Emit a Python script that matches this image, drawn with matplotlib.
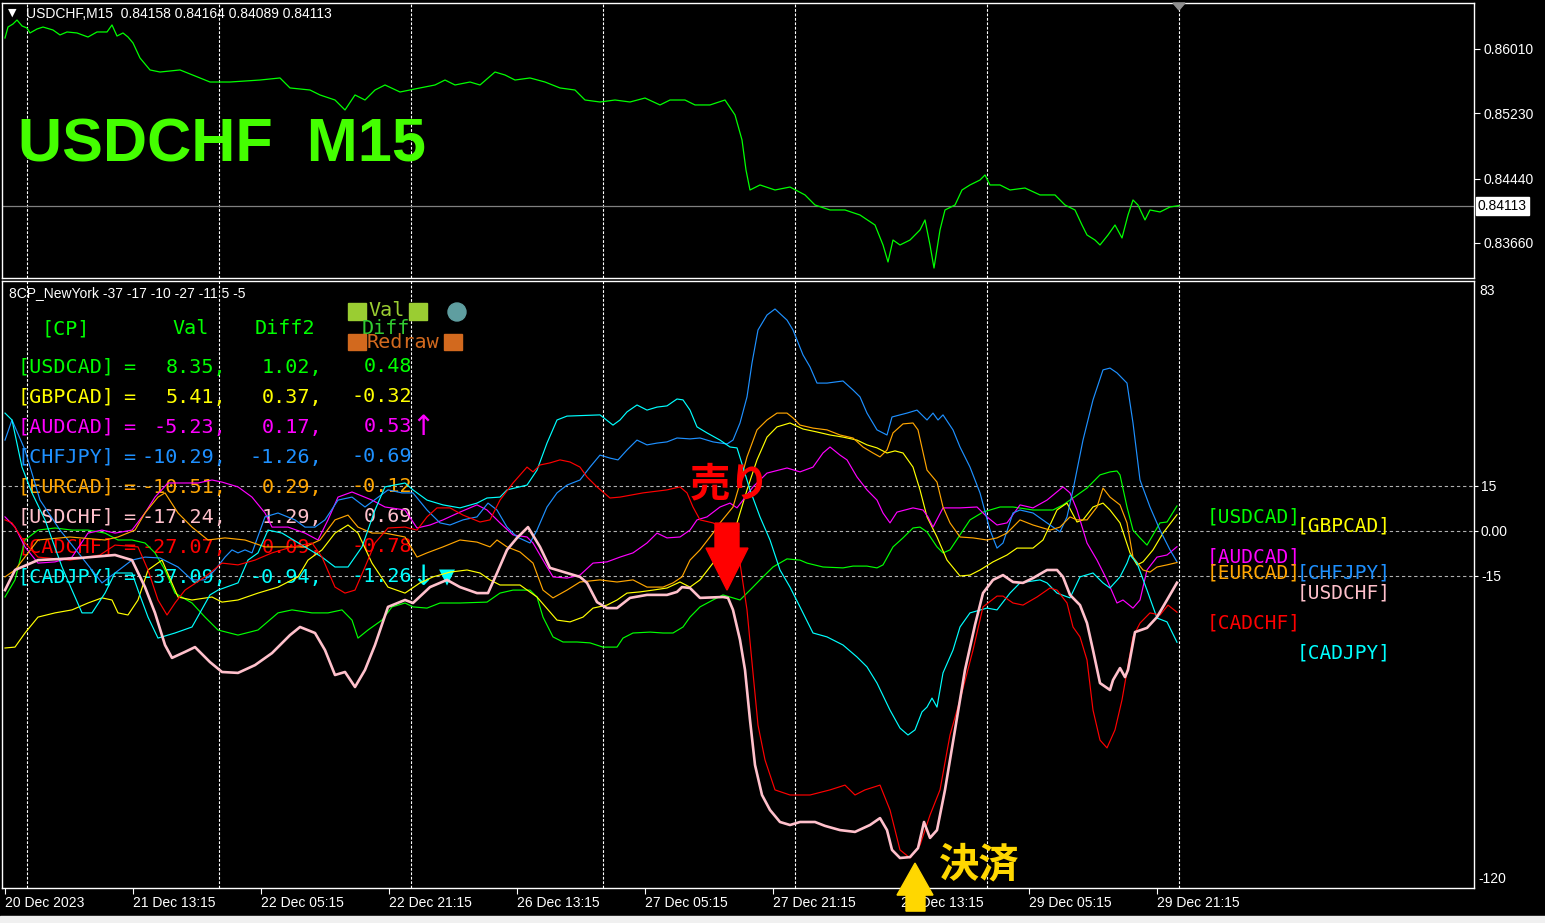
import matplotlib
matplotlib.use('Agg')
import matplotlib.pyplot as plt
import matplotlib.transforms as mtransforms
from matplotlib.patches import Polygon, Rectangle, Circle

plt.rcParams['font.family'] = ['Liberation Sans', 'DejaVu Sans']

# ---------------- data ----------------
symbol_header = "USDCHF,M15  0.84158 0.84164 0.84089 0.84113"
indicator_header = "8CP_NewYork -37 -17 -10 -27 -11 5 -5"
title_text = "USDCHF  M15"
last_price = 0.84113

price_x = [0, 1.5, 4, 6, 8.5, 11, 12.5, 16, 19, 24, 27.5, 31, 36, 41.5, 46, 51, 53.5, 56, 59, 61.5, 64,
           67.5, 72.5, 77.5, 87.5, 97.5, 102.5, 112.5, 127.5, 137.5, 142.5, 152.5, 157.5, 165, 170, 175,
           180, 185, 190, 197.5, 207.5, 215, 220, 225, 232.5, 237.5, 245, 250, 255, 262.5, 270, 277.5,
           285, 290, 297.5, 305, 312.5, 320, 327.5, 332.5, 340, 345, 352.5, 360, 365, 368.5, 370.5,
           372.5, 377.5, 385, 392.5, 400, 405, 412.5, 420, 427.5, 435, 439, 441.5, 444, 447.5, 452.5,
           457.5, 460, 462.5, 464.5, 467.5, 470, 475, 478.5, 482.5, 487.5, 490, 492.5, 497.5, 502.5,
           510, 517.5, 525, 530, 535, 538.5, 541, 545, 547.5, 551.5, 555, 558.5, 561.5, 564, 566.5,
           570, 572.5, 577.5, 582.5, 587]
price_y = [0.86143, 0.86276, 0.86313, 0.86361, 0.86289, 0.86264, 0.86204, 0.86252, 0.86276, 0.86240,
           0.86180, 0.86216, 0.86204, 0.86155, 0.86216, 0.86216, 0.86301, 0.86167, 0.86204, 0.86155,
           0.86083, 0.85901, 0.85756, 0.85731, 0.85756, 0.85659, 0.85610, 0.85610, 0.85634, 0.85659,
           0.85538, 0.85513, 0.85453, 0.85392, 0.85271, 0.85453, 0.85392, 0.85513, 0.85574, 0.85489,
           0.85538, 0.85574, 0.85634, 0.85574, 0.85610, 0.85574, 0.85731, 0.85695, 0.85634, 0.85659,
           0.85610, 0.85538, 0.85513, 0.85392, 0.85368, 0.85392, 0.85368, 0.85416, 0.85332, 0.85392,
           0.85392, 0.85332, 0.85332, 0.85392, 0.85211, 0.84908, 0.84544, 0.84302, 0.84363, 0.84302,
           0.84338, 0.84242, 0.84120, 0.84060, 0.84060, 0.83999, 0.83878, 0.83636, 0.83430, 0.83696,
           0.83636, 0.83696, 0.83818, 0.83939, 0.83636, 0.83357, 0.83818, 0.84060, 0.84120, 0.84302,
           0.84363, 0.84423, 0.84484, 0.84363, 0.84363, 0.84302, 0.84326, 0.84242, 0.84242, 0.84120,
           0.84060, 0.83878, 0.83757, 0.83696, 0.83636, 0.83757, 0.83878, 0.83721, 0.83999, 0.84181,
           0.84120, 0.83939, 0.84060, 0.84036, 0.84096, 0.84113]
price_ticks = [0.86010, 0.85230, 0.84440, 0.83660]

usdcad_x = [0, 5, 10, 16.5, 25, 33.5, 41.5, 50, 56.5, 63.5, 70, 75, 80, 85, 93.5, 100, 106.5, 116.5, 126.5,
            136.5, 143.5, 153.5, 161.5, 168.5, 173.5, 176.5, 181.5, 188.5, 193.5, 200, 204, 211, 217.5,
            227.5, 241, 247.5, 254, 262.5, 266, 269, 274, 279, 286, 292.5, 299, 306, 309, 314, 322.5, 329,
            334, 339, 342.5, 347.5, 354, 359, 364, 367.5, 372.5, 377.5, 384, 391, 397.5, 401, 409, 419,
            424, 431, 436, 439, 444, 449, 454, 457.5, 461, 466, 469, 472.5, 477.5, 482.5, 489, 497.5, 504,
            514, 524, 529, 534, 541, 547.5, 552.5, 556, 557.5, 561, 564, 567.5, 571, 574, 577.5, 581, 586]
usdcad_y = [-22.0, -16.3, -3.0, 0.3, 1.0, 0.3, 0.3, -0.7, -3.0, -3.0, -4.0, -7.3, -13.0, -20.7, -24.0,
            -28.7, -33.0, -34.7, -33.0, -27.3, -26.3, -27.3, -27.3, -26.3, -29.7, -35.7, -33.0, -29.7,
            -25.3, -24.0, -25.3, -25.7, -24.0, -24.0, -23.7, -20.7, -19.7, -19.7, -22.0, -28.7, -35.3,
            -37.0, -37.0, -37.3, -38.7, -38.7, -35.7, -34.0, -33.7, -34.0, -34.0, -32.0, -28.7, -25.3,
            -23.0, -21.3, -22.3, -23.0, -19.7, -16.3, -12.0, -9.3, -9.7, -10.7, -12.0, -12.3, -11.7,
            -11.7, -12.3, -11.3, -5.3, -2.3, 1.0, 1.3, -0.3, -5.3, -7.3, -6.3, -1.3, 3.7, 6.3, 8.0, 8.0,
            7.0, 7.0, 8.7, 11.0, 14.3, 18.7, 19.7, 20.0, 18.7, 8.0, 0.3, -2.3, -4.7, -1.3, 2.7, 3.0, 8.35]

gbpcad_x = [0, 5, 10, 16.5, 25, 33.5, 41.5, 48.5, 53.5, 56.5, 61.5, 66.5, 71.5, 78.5, 86.5, 93.5, 103.5,
            108.5, 116.5, 126.5, 136.5, 146.5, 151.5, 158.5, 165, 171.5, 176.5, 183.5, 191.5, 200, 207.5,
            214, 222.5, 231, 237.5, 242.5, 247.5, 257.5, 266, 276, 282.5, 289, 294, 301, 306, 311, 317.5,
            324, 331, 337.5, 342.5, 347.5, 354, 361, 366, 371, 376, 381, 386, 392.5, 399, 406, 412.5, 419,
            426, 431, 436, 441, 445, 449, 454, 457.5, 461, 466, 471, 477.5, 482.5, 487.5, 494, 501, 506,
            514, 519, 526, 531, 536, 539, 544, 549, 552.5, 557.5, 562.5, 566, 569, 574, 579, 586]
gbpcad_y = [-39.0, -38.7, -34.0, -28.7, -27.3, -26.3, -24.0, -22.3, -23.0, -27.3, -28.0, -23.0, -13.0,
            -9.7, -22.0, -23.0, -22.0, -23.7, -23.0, -20.7, -18.7, -15.3, -9.7, -6.3, -0.7, 2.0, -0.7,
            -10.7, -18.7, -20.7, -17.3, -15.3, -13.7, -13.0, -14.0, -16.3, -18.0, -18.0, -22.0, -29.7,
            -30.3, -28.7, -25.7, -24.7, -23.0, -20.7, -20.3, -19.7, -19.0, -17.0, -18.7, -16.3, -10.7,
            -5.3, 2.7, 13.7, 23.7, 31.3, 34.7, 36.0, 34.0, 33.0, 32.0, 31.3, 30.3, 28.7, 27.7, 26.0, 26.7,
            26.0, 21.3, 13.7, 4.7, -2.0, -9.7, -15.0, -14.7, -13.0, -10.3, -8.0, -5.7, -5.7, -3.0, 7.0,
            9.3, 3.0, 3.7, 8.0, 9.3, 7.0, 2.7, -7.3, -11.3, -10.3, -6.3, -0.7, 5.41]

audcad_x = [0, 5, 10, 16.5, 25, 33.5, 41.5, 48.5, 55, 63.5, 70, 75, 81.5, 88.5, 96.5, 103.5, 108.5, 116.5,
            123.5, 130, 133.5, 141.5, 150, 156.5, 161.5, 166.5, 173.5, 183.5, 190, 200, 206, 212.5, 219,
            227.5, 236, 241, 247.5, 254, 261, 264, 269, 274, 281, 287.5, 294, 301, 307.5, 314, 321, 326,
            331, 337.5, 342.5, 346, 351, 357.5, 362.5, 366, 369, 374, 381, 391, 397.5, 404, 409, 412.5,
            417.5, 421, 426, 431, 436, 439, 442.5, 446, 454, 459, 461.5, 464, 469, 477.5, 486, 491, 496,
            501, 507.5, 514, 521, 529, 532.5, 536, 541, 546, 551, 556, 559, 564, 567.5, 571, 576, 581, 586]
audcad_y = [4.7, 1.3, -5.3, -10.7, -10.3, -8.7, -0.7, 0.3, -0.7, 0.3, 6.0, 11.3, 16.0, 16.0, 16.0, 17.0,
            16.3, 14.7, 11.3, 6.0, 1.3, 1.3, -0.7, -3.0, 3.7, 11.3, 13.0, 10.3, 8.0, 7.0, 1.0, 2.0, 3.7,
            6.3, 8.7, 7.0, 2.7, -1.3, -2.0, -4.0, -9.7, -15.3, -15.7, -14.7, -10.7, -10.3, -8.7, -7.3,
            -4.0, -0.7, -2.3, -2.0, 0.3, 3.7, 4.7, 8.0, 9.3, 7.7, 10.3, 14.7, 19.3, 21.0, 19.7, 21.3, 26.0,
            28.0, 25.3, 23.7, 18.0, 13.7, 10.3, 6.0, 2.7, 6.3, 7.7, 7.0, 4.7, 1.3, 7.7, 7.7, 8.0, 4.7, 2.0,
            2.7, 8.7, 7.7, 10.3, 14.7, 12.7, 7.0, -4.0, -9.7, -16.3, -24.0, -23.0, -25.7, -23.0, -13.0,
            -8.7, -8.0, -5.23]

chfjpy_x = [0, 3.5, 10, 17.5, 27.5, 37.5, 48.5, 55, 63.5, 70, 77.5, 86.5, 93.5, 100, 105, 110, 113.5, 116.5,
            120, 123.5, 130, 136.5, 145, 150, 155, 160, 166.5, 173.5, 180, 191.5, 198.5, 204, 211, 217.5,
            222.5, 229, 236, 241.5, 246, 251, 256, 262.5, 266, 271, 276, 281, 287.5, 292.5, 297.5, 302.5,
            306.5, 311, 316, 321, 326, 331, 336, 342.5, 347.5, 354, 361, 364, 367.5, 371, 373.5, 376.5,
            381, 385, 391, 394, 399, 402.5, 406, 411, 419, 424, 427.5, 431, 436, 441, 443.5, 447.5, 451,
            456, 461, 464, 466.5, 469, 474, 477.5, 482.5, 487.5, 492.5, 496, 499, 504, 507.5, 514, 521,
            527.5, 531, 534, 539, 544, 549, 552.5, 556, 561, 564, 567.5, 572.5, 577.5, 582.5, 586]
chfjpy_y = [30.3, 37.0, 27.0, 10.3, 0.3, -8.0, -17.3, -14.0, -9.7, -8.7, -9.0, -12.0, -16.3, -16.3, -13.0,
            -8.7, -6.3, -7.3, -6.3, -7.3, 4.7, 6.0, 3.7, 1.3, 1.3, 3.7, 10.3, 11.3, 8.0, 13.7, 12.7, 12.7,
            7.0, 2.7, 2.0, 3.7, 4.7, 9.3, 7.0, 1.3, -2.0, -4.0, 0.3, 8.0, 12.7, 15.3, 17.0, 21.3, 25.3,
            24.3, 23.7, 27.0, 30.3, 28.7, 29.3, 29.7, 31.0, 30.7, 31.0, 29.7, 29.0, 30.3, 36.0, 44.7, 56.0,
            67.0, 72.0, 74.0, 70.3, 67.0, 58.7, 54.7, 49.3, 49.3, 50.0, 47.0, 44.7, 39.3, 33.7, 32.0, 38.0,
            38.7, 39.3, 40.3, 37.0, 39.3, 37.0, 38.7, 33.7, 28.0, 21.3, 12.7, 0.3, -5.7, -4.0, 6.0, 7.0,
            6.0, 2.7, -0.3, 4.7, 13.7, 30.3, 43.7, 53.7, 54.3, 52.7, 49.3, 36.0, 17.0, 8.0, 0.3, -6.3,
            -10.29]

eurcad_x = [0, 5, 16.5, 32.5, 50, 56.5, 65, 70, 76.5, 80, 86.5, 93.5, 101.5, 110, 120, 130, 138.5, 150,
            157.5, 165, 171.5, 176.5, 183.5, 190, 200, 206, 211, 219, 227.5, 236, 242.5, 246, 251, 257.5,
            264, 269, 274, 281, 287.5, 297.5, 306, 314, 321, 329, 334, 338.5, 342.5, 347.5, 354, 357.5,
            364, 367.5, 371, 376, 381, 386, 391, 394, 397.5, 404, 411, 417.5, 424, 429, 434, 437.5, 441,
            444, 449, 454, 456.5, 461, 466, 469, 472.5, 477.5, 484, 491, 496, 501, 507.5, 514, 522.5,
            527.5, 532.5, 536, 541, 546, 549, 552.5, 557.5, 561, 564, 569, 572.5, 576, 581, 586]
eurcad_y = [-15.3, -13.0, -3.0, -2.0, -3.0, -2.0, 0.3, 6.0, 11.3, 12.7, 6.0, 1.3, -3.0, -2.3, -3.0, -5.3,
            -5.3, -5.3, -3.0, 3.7, 5.3, 1.3, -0.7, -0.7, -2.0, -8.7, -7.3, -5.3, -3.0, -3.7, -5.3, -3.0,
            -5.3, -7.0, -10.7, -19.7, -22.3, -19.7, -17.0, -16.3, -17.0, -16.3, -18.7, -18.7, -17.3,
            -15.3, -9.7, -6.3, -0.7, 2.7, 8.0, 16.0, 24.7, 33.7, 37.0, 39.3, 39.3, 37.7, 35.3, 34.3, 33.7,
            32.0, 31.0, 28.0, 26.0, 24.7, 27.0, 32.7, 35.7, 36.0, 33.7, 20.3, 16.3, 8.0, 2.7, -2.0, -2.3,
            -3.0, -2.3, -0.7, 3.7, 2.0, 0.3, 1.3, 4.7, 3.7, 3.7, 8.0, 14.3, 11.3, 8.7, 2.7, -8.7, -13.0,
            -13.7, -12.0, -11.3, -10.51]

usdchf_x = [0, 5, 16.5, 37.5, 55, 63.5, 70, 75, 80, 83.5, 90, 95, 102.5, 108.5, 116.5, 125, 133.5, 142.5,
            147.5, 155, 160, 165, 170, 175, 180, 185, 191.5, 200, 204, 212.5, 221, 227.5, 236, 241.5, 246,
            251, 256, 261.5, 267.5, 272.5, 281, 287.5, 291, 296, 301, 306, 312.5, 321, 331, 336, 338.5,
            342.5, 347.5, 359, 361.5, 364, 367.5, 370, 372.5, 375, 378.5, 382.5, 387.5, 392.5, 397.5, 405,
            410, 417.5, 425, 432.5, 437.5, 441, 443.5, 447.5, 452.5, 456.5, 459.5, 462.5, 466, 470, 475,
            480, 485, 489, 494, 499, 504, 509, 514, 521, 526, 529, 532.5, 537.5, 541, 544, 547.5, 552.5,
            554, 557.5, 560, 561.5, 565, 571, 576, 581, 586]
usdchf_y = [-19.7, -13.0, -9.7, -9.0, -8.0, -9.7, -18.7, -27.3, -38.0, -42.3, -40.3, -38.7, -43.7, -47.0,
            -47.3, -44.7, -40.7, -34.7, -32.0, -34.0, -39.7, -48.0, -47.0, -52.0, -46.3, -38.0, -25.3,
            -23.0, -24.0, -18.7, -16.3, -18.7, -20.7, -20.7, -14.0, -6.3, -2.3, 1.3, -5.3, -12.3, -14.0,
            -15.3, -17.3, -23.7, -25.7, -25.7, -22.3, -21.3, -21.3, -20.3, -18.7, -19.0, -22.3, -22.0,
            -22.3, -26.3, -36.3, -46.3, -63.0, -78.0, -88.0, -93.0, -97.0, -98.0, -97.0, -97.0, -98.3,
            -99.7, -100.3, -98.0, -95.7, -99.7, -106.3, -109.0, -108.7, -105.7, -97.0, -102.3, -99.7,
            -86.3, -66.3, -46.3, -31.3, -20.7, -16.3, -14.7, -17.0, -17.3, -15.7, -13.0, -13.0, -15.3,
            -21.3, -24.7, -30.7, -39.7, -50.7, -53.0, -49.7, -45.7, -48.7, -46.3, -33.7, -32.3, -28.7,
            -23.0, -17.24]

cadchf_x = [0, 3.5, 10, 16.5, 32.5, 47.5, 55, 66.5, 71.5, 76.5, 81, 85, 90, 100, 108.5, 116.5, 125, 133.5,
            143.5, 153.5, 158.5, 165, 170, 175, 180, 185, 191.5, 200, 206, 211, 216, 222.5, 229, 237.5,
            242.5, 247.5, 254, 261, 264, 267.5, 272.5, 277.5, 282.5, 287.5, 291, 296, 302.5, 307.5, 319,
            331, 337.5, 341, 344, 347.5, 354, 361.5, 367.5, 371, 374, 376.5, 380, 385, 392.5, 402.5, 412.5,
            420, 425, 430, 437.5, 442.5, 447.5, 452.5, 457.5, 462.5, 467.5, 472.5, 477.5, 484, 489, 496,
            499, 504, 509, 516, 522.5, 526, 531, 534, 537.5, 541, 544, 547.5, 551, 555, 558.5, 564, 567.5,
            572.5, 577.5, 581.5, 586]
cadchf_y = [3.7, 2.7, -4.0, -8.7, -9.7, -8.0, -4.7, -5.3, -13.0, -23.0, -28.0, -24.0, -19.7, -15.3, -10.7,
            -11.3, -9.7, -7.3, -5.3, -4.0, -8.7, -18.7, -20.7, -19.7, -12.0, -4.0, 1.0, 1.3, 0.3, 4.7, 7.7,
            7.7, 5.3, 3.0, 3.7, 10.3, 16.0, 21.3, 19.7, 22.0, 22.7, 23.7, 23.0, 21.3, 18.0, 14.7, 11.0,
            11.3, 12.7, 13.7, 14.7, 12.7, 8.0, 3.7, 2.7, 0.3, -10.7, -26.3, -47.3, -64.7, -76.3, -86.3,
            -88.0, -88.0, -86.3, -84.7, -88.0, -86.3, -84.7, -93.0, -106.3, -109.0, -104.7, -94.7, -86.3,
            -68.0, -56.3, -39.7, -25.3, -21.7, -21.7, -24.0, -24.7, -22.0, -19.0, -19.7, -24.0, -32.0,
            -35.3, -43.0, -59.7, -69.7, -72.3, -66.3, -56.3, -35.3, -30.7, -27.3, -28.0, -24.7, -27.07]

cadjpy_x = [0, 3.5, 8.5, 13.5, 20, 28.5, 33.5, 38.5, 43.5, 50, 55, 63.5, 66.5, 71.5, 76.5, 85, 93.5, 102.5,
            106.5, 116.5, 121.5, 126.5, 131.5, 138.5, 150, 158.5, 165, 171.5, 178.5, 185, 190, 200, 204,
            211, 219, 227.5, 236, 241, 247.5, 251, 261, 266, 271, 276, 281, 297.5, 304, 307.5, 311, 316,
            321, 326, 331, 336, 339, 342.5, 346, 351, 357.5, 362.5, 366, 369, 372.5, 377.5, 382.5, 387.5,
            392.5, 397.5, 404, 411, 419, 426, 431, 436, 442.5, 447.5, 451.5, 455, 458.5, 461, 463.5, 466,
            469, 474, 477.5, 482.5, 491, 496, 502.5, 507.5, 517.5, 521, 526, 532.5, 537.5, 544, 549, 552.5,
            557.5, 561, 562.5, 566, 571, 576, 581, 586]
cadjpy_y = [39.3, 37.0, 21.3, 12.7, 3.7, -12.0, -19.7, -27.3, -27.3, -20.7, -14.0, -14.0, -19.7, -28.7,
            -35.7, -34.0, -32.0, -21.3, -19.7, -17.3, -9.7, -7.3, 0.3, -0.7, -5.3, -8.7, -12.0, -12.0,
            -5.3, 7.0, 14.7, 16.0, 13.7, 10.3, 8.7, 7.7, 9.3, 11.0, 11.3, 13.7, 15.3, 20.3, 29.3, 37.0,
            38.3, 38.7, 35.3, 37.0, 39.7, 42.0, 40.3, 41.3, 41.7, 44.0, 43.7, 40.3, 34.7, 32.7, 30.3, 28.0,
            27.7, 21.3, 13.7, 4.7, -3.0, -13.0, -18.7, -25.3, -34.0, -35.3, -38.0, -42.0, -45.3, -50.7,
            -59.7, -65.7, -68.0, -66.3, -60.3, -58.7, -55.7, -58.7, -47.3, -39.7, -32.0, -27.3, -25.7,
            -26.3, -20.7, -17.3, -16.3, -17.3, -20.7, -22.3, -15.3, -14.0, -17.3, -19.0, -15.3, -10.7,
            -8.0, -10.7, -19.7, -29.0, -30.3, -37.09]

pairs = ['USDCAD', 'GBPCAD', 'AUDCAD', 'CHFJPY', 'EURCAD', 'USDCHF', 'CADCHF', 'CADJPY']
colors = ['#00FF00', '#FFFF00', '#FF00FF', '#1E90FF', '#FFA500', '#FFC0CB', '#FF0000', '#00FFFF']
vals = [8.35, 5.41, -5.23, -10.29, -10.51, -17.24, -27.07, -37.09]
diff2 = [1.02, 0.37, 0.17, -1.26, 0.29, 1.29, 0.09, -0.94]
diff = [0.48, -0.32, 0.53, -0.69, -0.12, 0.69, -0.78, -1.26]
flags = ['', '', '↑', '', '', '', '', '↓']

series_x = [usdcad_x, gbpcad_x, audcad_x, chfjpy_x, eurcad_x, usdchf_x, cadchf_x, cadjpy_x]
series_y = [usdcad_y, gbpcad_y, audcad_y, chfjpy_y, eurcad_y, usdchf_y, cadchf_y, cadjpy_y]

level_lines = [15, 0, -15]
grid_bars = [11, 107, 203, 299, 395, 491, 587]
tick_bars = [0, 64, 128, 192, 256, 320, 384, 448, 512, 576]
tick_labels = ['20 Dec 2023', '21 Dec 13:15', '22 Dec 05:15', '22 Dec 21:15', '26 Dec 13:15',
               '27 Dec 05:15', '27 Dec 21:15', '28 Dec 13:15', '29 Dec 05:15', '29 Dec 21:15']
sell_signal = (361, -19.7)
exit_signal = (455, -110.7)

# ---------------- figure ----------------
W, H = 1545, 923
fig = plt.figure(figsize=(W / 100, H / 100), dpi=100, facecolor='black')
PX = mtransforms.Affine2D().scale(1 / W, -1 / H).translate(0, 1) + fig.transFigure

ax1 = fig.add_axes([2 / W, (H - 278) / H, 1472 / W, 275 / H], facecolor='black')
ax2 = fig.add_axes([2 / W, (H - 888) / H, 1472 / W, 607 / H], facecolor='black')
for ax in (ax1, ax2):
    for s in ax.spines.values():
        s.set_color('white')
        s.set_linewidth(1.0)
    ax.set_xlim(-1.5, 734.5)
    for gb in grid_bars:
        ax.axvline(gb, color='white', lw=0.8, ls=(0, (2.5, 1.5)), zorder=0.5)

# top panel
ax1.set_ylim(0.83236, 0.86567)
ax1.plot(price_x, price_y, color='#00FF00', lw=0.9, zorder=2)
ax1.axhline(last_price, color='#808080', lw=0.9, zorder=1)
ax1.yaxis.tick_right()
ax1.set_yticks(price_ticks)
ax1.set_yticklabels([f'{v:.5f}' for v in price_ticks])
ax1.tick_params(axis='y', colors='white', labelcolor='white', labelsize=10, length=4, pad=3)
ax1.set_xticks([])
ax1.text(1.0025, last_price, f'{last_price:.5f}', transform=mtransforms.blended_transform_factory(ax1.transAxes, ax1.transData),
         ha='left', va='center', color='black', fontsize=10,
         bbox=dict(boxstyle='square,pad=0.15', fc='white', ec='white'))
ax1.text(8, 13, '▼', transform=PX, color='white', fontsize=8, va='center', ha='left', family='DejaVu Sans')
ax1.text(26, 14, symbol_header, transform=PX, color='white', fontsize=10, va='center', ha='left')
ax1.text(18, 146, title_text, transform=PX, color='#44FF00', fontsize=44, fontweight='bold',
         va='center', ha='left')
ax1.add_patch(Polygon([[1173, 3], [1185, 3], [1179, 10]], closed=True, transform=PX, color='#909090', clip_on=False, zorder=5))

# bottom panel
ax2.set_ylim(-119.0, 83.33)
for lv in level_lines:
    ax2.axhline(lv, color='#B0B0B0', lw=0.8, ls=(0, (3, 2.5)), zorder=0.6)
order = [0, 1, 2, 3, 4, 7, 6, 5]
for i in order:
    lw = 1.9 if pairs[i] == 'USDCHF' else 0.85
    ax2.plot(series_x[i], series_y[i], color=colors[i], lw=lw, zorder=2 + (1 if pairs[i] == 'USDCHF' else 0))
ax2.yaxis.tick_right()
ax2.set_yticks(level_lines)
ax2.set_yticklabels(['15', '0.00', '-15'])
ax2.tick_params(axis='y', colors='white', labelcolor='white', labelsize=10, length=3, pad=2)
ax2.set_xticks(tick_bars)
ax2.set_xticklabels(tick_labels)
ax2.tick_params(axis='x', colors='white', labelcolor='white', labelsize=10, length=4, pad=2)
for lab in ax2.get_xticklabels():
    lab.set_ha('left')
ax2.text(1479, 291, '83', transform=PX, color='white', fontsize=10, va='center', ha='left')
ax2.text(1478, 879, '-120', transform=PX, color='white', fontsize=10, va='center', ha='left')
ax2.text(9, 293, indicator_header, transform=PX, color='white', fontsize=10, va='center', ha='left')

# table
mono = 'DejaVu Sans Mono'
tfs = 14.5
ax2.text(42, 329, '[CP]', transform=PX, color='#00FF00', fontsize=tfs, family=mono, va='center', ha='left', zorder=1)
ax2.text(172, 329, 'Val', transform=PX, color='#00FF00', fontsize=tfs, family=mono, va='center', ha='left', zorder=1)
ax2.text(255, 329, 'Diff2', transform=PX, color='#00FF00', fontsize=tfs, family=mono, va='center', ha='left', zorder=1)
for k, p in enumerate(pairs):
    y = 367 + 30 * k
    c = colors[k]
    kw = dict(transform=PX, color=c, fontsize=tfs, family=mono, va='center', zorder=1)
    ax2.text(17, y, f'[{p}]', ha='left', **kw)
    ax2.text(129, y, '=', ha='center', **kw)
    ax2.text(226, y, f'{vals[k]:.2f},', ha='right', **kw)
    ax2.text(322, y, f'{diff2[k]:.2f},', ha='right', **kw)
    ax2.text(412, y, f'{diff[k]:.2f}', ha='right', **kw)
    if flags[k]:
        ax2.text(423, y, flags[k], transform=PX, color=c, fontsize=20, family='DejaVu Sans',
                 va='center', ha='center', zorder=1)
ax2.text(447, 577, '▼', transform=PX, color='#00FFFF', fontsize=15, family='DejaVu Sans', va='center', ha='center', zorder=1)

# legend block
ax2.add_patch(Rectangle((348, 303), 18, 17, transform=PX, color='#9ACD32', clip_on=False, zorder=1))
ax2.add_patch(Rectangle((409, 303), 18, 17, transform=PX, color='#9ACD32', clip_on=False, zorder=1))
ax2.text(368, 311, 'Val', transform=PX, color='#9ACD32', fontsize=tfs, family=mono, va='center', ha='left', zorder=1)
ax2.text(362, 328, 'Diff', transform=PX, color='#32CD32', fontsize=tfs, family=mono, va='center', ha='left', zorder=1)
ax2.add_patch(Rectangle((348, 334), 18, 16, transform=PX, color='#D2691E', clip_on=False, zorder=1))
ax2.add_patch(Rectangle((444, 334), 18, 16, transform=PX, color='#D2691E', clip_on=False, zorder=1))
ax2.text(367, 342, 'Redraw', transform=PX, color='#D2691E', fontsize=tfs, family=mono, va='center', ha='left', zorder=1)
ax2.add_patch(Circle((457, 312), 9, transform=PX, color='#5F9EA0', clip_on=False, zorder=1))

# right-side labels
label_pos = [(1207, 517), (1297, 526), (1207, 557), (1297, 573), (1207, 573), (1297, 593), (1207, 623), (1297, 653)]
for k, p in enumerate(pairs):
    ax2.text(label_pos[k][0], label_pos[k][1], f'[{p}]', transform=PX, color=colors[k], fontsize=14,
             family=mono, va='center', ha='left', zorder=4)

# signals
def offset_tr(ax, pt):
    return fig.dpi_scale_trans + mtransforms.ScaledTranslation(pt[0], pt[1], ax.transData)

tr_s = offset_tr(ax2, sell_signal)
sell_arrow = [[-0.12, 0.67], [0.12, 0.67], [0.12, 0.42], [0.21, 0.42], [0.0, 0.0], [-0.21, 0.42], [-0.12, 0.42]]
ax2.add_patch(Polygon(sell_arrow, closed=True, transform=tr_s, color='#FF0000', clip_on=False, zorder=6))
ax2.text(0.03, 1.05, '売り', transform=tr_s, color='#FF0000', fontsize=29, fontweight='bold',
         family=['Noto Sans CJK JP', 'DejaVu Sans'], ha='center', va='center', zorder=6)

tr_e = offset_tr(ax2, exit_signal)
exit_arrow = [[0.0, 0.0], [0.18, -0.32], [0.10, -0.32], [0.10, -0.48], [-0.09, -0.48], [-0.09, -0.32], [-0.18, -0.32]]
ax2.add_patch(Polygon(exit_arrow, closed=True, transform=tr_e, color='#FFD700', clip_on=False, zorder=6))
ax2.text(0.64, -0.02, '決済', transform=tr_e, color='#FFD700', fontsize=29, fontweight='bold',
         family=['Noto Sans CJK JP', 'DejaVu Sans'], ha='center', va='center', zorder=6)

# bottom status strip
fig.patches.append(Rectangle((0, 0), 1, 7 / H, transform=fig.transFigure, color='#F0F0F0', zorder=0))

fig.savefig('out.png', dpi=100, facecolor='black')
